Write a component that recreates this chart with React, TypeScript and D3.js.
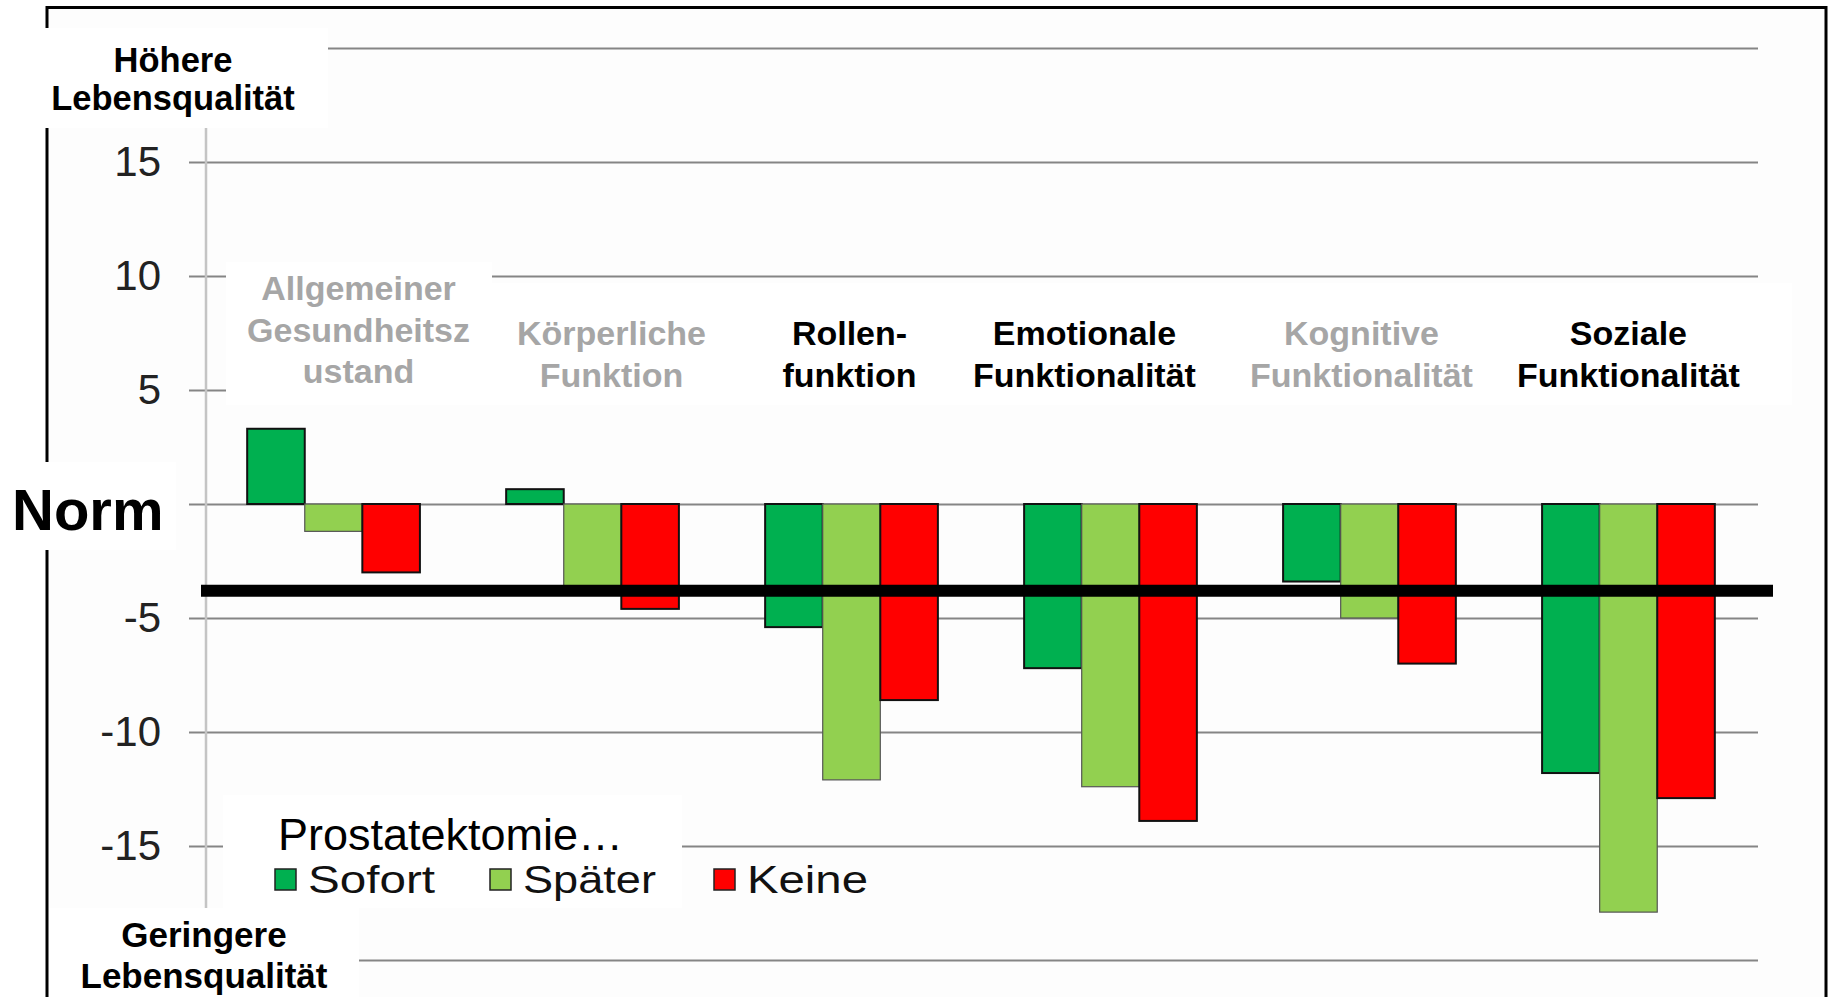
import React, { useEffect, useRef } from "react";
import * as d3 from "d3";

const width = 1829;
const height = 997;
const font = "'Liberation Sans', Arial, sans-serif";

// data
const categories = [
  "Allgemeiner Gesundheitszustand",
  "Körperliche Funktion",
  "Rollenfunktion",
  "Emotionale Funktionalität",
  "Kognitive Funktionalität",
  "Soziale Funktionalität",
];
const categoryLines = [
  ["Allgemeiner", "Gesundheitsz", "ustand"],
  ["Körperliche", "Funktion"],
  ["Rollen-", "funktion"],
  ["Emotionale", "Funktionalität"],
  ["Kognitive", "Funktionalität"],
  ["Soziale", "Funktionalität"],
];
const categoryGreyed = [true, true, false, false, true, false];
const seriesNames = ["Sofort", "Später", "Keine"];
const sofort = [3.3, 0.65, -5.4, -7.2, -3.4, -11.8];
const spaeter = [-1.2, -3.7, -12.1, -12.4, -5.0, -17.9];
const keine = [-3.0, -4.6, -8.6, -13.9, -7.0, -12.9];
const yTicks = [20, 15, 10, 5, 0, -5, -10, -15, -20];
// tick labels covered by the annotation boxes in the original
const hiddenTickLabels = [20, 0, -20];
const thresholdValue = -3.8;

const seriesValues = [sofort, spaeter, keine];
const seriesFill = ["#00B050", "#92D050", "#FF0000"];
const seriesStroke = ["#111", "#555", "#111"];
const seriesStrokeWidth = [2, 1.2, 2];

// layout tweaks for the overlaid labels (relative to group centre)
const labelDx = [25, 19, -2, -26, -8, 0];
const legendX = [275, 490, 714];
const legendTextWidth = [127, 133, 121];

const y = d3.scaleLinear().domain([-20, 20]).range([960, 48]);
const x = d3
  .scaleBand<string>()
  .domain(categories)
  .range([204, 1758])
  .paddingInner(0.333)
  .paddingOuter(0.1667);
const xs = d3.scaleBand<string>().domain(seriesNames).range([0, x.bandwidth()]);

const gridLeft = 189;
const gridRight = 1758;

export default function App() {
  const gridRef = useRef<SVGGElement>(null);

  useEffect(() => {
    const axis = d3
      .axisLeft(y)
      .tickValues(yTicks)
      .tickSize(-(gridRight - gridLeft))
      .tickPadding(28)
      .tickFormat((d) => (hiddenTickLabels.includes(+d) ? "" : String(d)));
    const g = d3.select(gridRef.current!);
    g.call(axis as any);
    g.select(".domain").remove();
    g.selectAll(".tick line").attr("stroke", "#858585").attr("stroke-width", 2);
    g.selectAll(".tick text")
      .attr("fill", "#222")
      .attr("font-size", 42)
      .attr("font-family", font)
      .attr("dy", "0.33em");
  }, []);

  const yZero = y(0);

  return (
    <svg
      width={width}
      height={height}
      style={{ position: "absolute", left: 0, top: 0, background: "#fff" }}
    >
      <rect x={0} y={0} width={width} height={height} fill="#fff" />
      {/* frame */}
      <rect x={47} y={7.5} width={1779} height={1100} fill="#fdfdfd" stroke="#000" strokeWidth={3} />

      {/* gridlines + tick labels */}
      <g ref={gridRef} transform={`translate(${gridLeft},0)`} />

      {/* y axis line */}
      <line x1={206} x2={206} y1={y(20)} y2={y(-20)} stroke="#c4c4c4" strokeWidth={2.5} />

      {/* bars */}
      {categories.map((c, ci) => (
        <g key={c} transform={`translate(${x(c)},0)`}>
          {seriesNames.map((s, si) => {
            const v = seriesValues[si][ci];
            const yv = y(v);
            return (
              <rect
                key={s}
                x={xs(s)}
                y={Math.min(yv, yZero)}
                width={xs.bandwidth()}
                height={Math.abs(yv - yZero)}
                fill={seriesFill[si]}
                stroke={seriesStroke[si]}
                strokeWidth={seriesStrokeWidth[si]}
              />
            );
          })}
        </g>
      ))}

      {/* threshold line */}
      <line x1={201} x2={1773} y1={y(thresholdValue)} y2={y(thresholdValue)} stroke="#000" strokeWidth={12} />

      {/* category label boxes */}
      <rect x={226} y={262} width={266} height={143} fill="#fff" />
      <rect x={492} y={283} width={1300} height={122} fill="#fff" />

      {/* category labels */}
      {categories.map((c, ci) => {
        const lines = categoryLines[ci];
        const cx = x(c)! + x.bandwidth() / 2 + labelDx[ci];
        const baseY = lines.length === 3 ? 300 : 345;
        return (
          <text
            key={c}
            x={cx}
            y={baseY}
            textAnchor="middle"
            fontFamily={font}
            fontWeight="bold"
            fontSize={34}
            fill={categoryGreyed[ci] ? "#a6a6a6" : "#000"}
          >
            {lines.map((l, li) => (
              <tspan key={li} x={cx} dy={li === 0 ? 0 : 41.5}>
                {l}
              </tspan>
            ))}
          </text>
        );
      })}

      {/* legend */}
      <rect x={223} y={795} width={459} height={113} fill="#fff" />
      <text x={278} y={850} fontFamily={font} fontSize={45} fill="#000">
        Prostatektomie…
      </text>
      {seriesNames.map((s, si) => {
        const lx = legendX[si];
        return (
          <g key={s}>
            <rect x={lx} y={869} width={21} height={21} fill={seriesFill[si]} stroke="#222" strokeWidth={1.5} />
            <text
              x={lx + 33}
              y={893}
              fontFamily={font}
              fontSize={38}
              fill="#111"
              textLength={legendTextWidth[si]}
              lengthAdjust="spacingAndGlyphs"
            >
              {s}
            </text>
          </g>
        );
      })}

      {/* corner annotations */}
      <rect x={44} y={28} width={284} height={100} fill="#fff" />
      <text x={173} y={72} textAnchor="middle" fontFamily={font} fontWeight="bold" fontSize={34.5}>
        <tspan x={173}>Höhere</tspan>
        <tspan x={173} dy={38}>Lebensqualität</tspan>
      </text>

      <rect x={0} y={462} width={176} height={88} fill="#fff" />
      <text x={12} y={530} fontFamily={font} fontWeight="bold" fontSize={58}>
        Norm
      </text>

      <rect x={49} y={908} width={310} height={100} fill="#fff" />
      <text x={204} y={947} textAnchor="middle" fontFamily={font} fontWeight="bold" fontSize={35}>
        <tspan x={204}>Geringere</tspan>
        <tspan x={204} dy={41}>Lebensqualität</tspan>
      </text>
    </svg>
  );
}
